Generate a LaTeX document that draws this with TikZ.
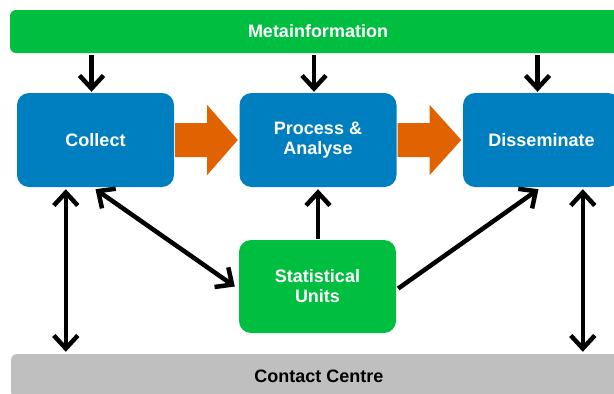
\documentclass[tikz,border=0pt]{standalone}
\usepackage{fontspec}
\setmainfont{Liberation Sans}
\usetikzlibrary{arrows.meta,calc}
\definecolor{boxblue}{RGB}{0,127,192}
\definecolor{boxgreen}{RGB}{0,190,64}
\definecolor{arrorange}{RGB}{224,98,0}
\definecolor{bargray}{RGB}{191,191,191}
\tikzset{
  stagebox/.style={rectangle, rounded corners=12pt, fill=boxblue, text=white,
    minimum width=157pt, minimum height=94pt, inner sep=0pt, align=center,
    font=\fontsize{18}{20}\selectfont\bfseries},
  unitbox/.style={stagebox, fill=boxgreen, minimum height=93pt},
  barbox/.style={rectangle, rounded corners=6pt, inner sep=0pt,
    font=\fontsize{18}{20}\selectfont\bfseries},
  blackarrow/.style={draw=black, line width=4.5pt,
    -{Straight Barb[length=13pt,width=24pt]}},
  blackdouble/.style={draw=black, line width=4.5pt,
    {Straight Barb[length=13pt,width=24pt]}-{Straight Barb[length=13pt,width=24pt]}},
  bigarrow/.style={fill=arrorange}
}
\begin{document}
\begin{tikzpicture}[x=1pt,y=-1pt]
\clip (0,0) rectangle (614,394);
\fill[white] (0,0) rectangle (614,394);

\node[barbox, fill=boxgreen, text=white, minimum width=616pt, minimum height=43pt]
  (meta) at (318,31.5) {Metainformation};
\node[barbox, fill=bargray, text=black, minimum width=616pt, minimum height=44pt]
  (contact) at (319,376) {Contact Centre};

\node[stagebox] (collect) at (95.5,140) {Collect};
\node[stagebox] (process) at (318,140) {Process \&\\Analyse};
\node[stagebox] (dissem) at (541.5,140) {Disseminate};
\node[unitbox] (stat) at (317.5,286.5) {Statistical\\Units};

% orange flow arrows
\foreach \a/\b in {collect/process, process/dissem}{
  \fill[bigarrow] ($(\a.east)+(1,-17)$) -- ($(\a.east)+(33,-17)$) -- ($(\a.east)+(33,-35)$)
    -- ($(\b.west)+(-1.5,0)$) -- ($(\a.east)+(33,35)$) -- ($(\a.east)+(33,17)$)
    -- ($(\a.east)+(1,17)$) -- cycle;
}

% metainformation arrows
\foreach \n in {collect, process, dissem}{
  \draw[blackarrow] ($(meta.south -| \n.north)+(-4,2)$) -- ($(\n.north)+(-4,-1)$);
}

% vertical double arrows to contact centre
\coordinate (lt) at ($(collect.south west)+(49,2)$);
\coordinate (lb) at ($(contact.north west)+(55,-2)$);
\coordinate (rt) at ($(dissem.south west)+(120,2)$);
\coordinate (rb) at ($(contact.north west)+(572,-2)$);
\draw[blackdouble] (lt) -- (lb);
\draw[blackdouble] (rt) -- (rb);

% statistical units connections
\draw[blackdouble] ($(collect.south)+(0,2)$) -- ($(stat.west)+(-4,0)$);
\draw[blackarrow] ($(stat.north)+(0.5,-1)$) -- ($(process.south)+(0,2)$);
\draw[blackarrow] ($(stat.east)+(2,2)$) -- ($(dissem.south)+(-3,2)$);
\end{tikzpicture}
\end{document}
